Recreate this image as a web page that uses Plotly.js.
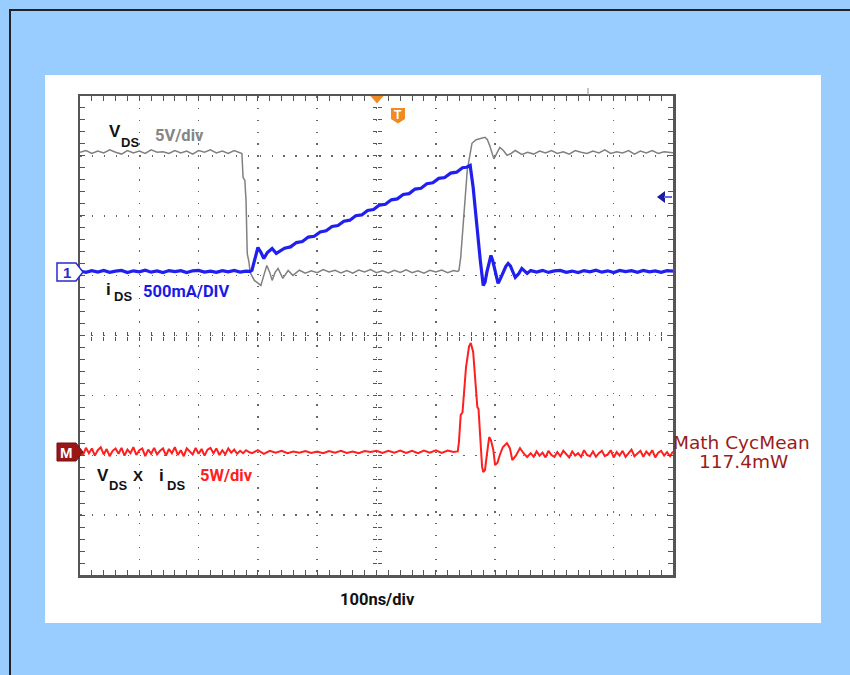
<!DOCTYPE html>
<html>
<head>
<meta charset="utf-8">
<script src="https://cdn.plot.ly/plotly-3.0.1.min.js"></script>
<style>
html,body{margin:0;padding:0;background:#99CCFF;}
#chart{width:850px;height:675px;}
</style>
</head>
<body>
<div id="chart"></div>
<script>
// ---------- DATA (time in ns, 100 ns/div, trigger at 0) ----------
// V_DS (volts), 5 V/div
const vdsTime = [
  -500,-490,-480,-470,-460,-450,-440,-430,-420,-410,-400,-390,-380,-370,-360,-350,-340,-330,-320,-310,-300,-290,-280,-270,-260,-250,-240,-230,
  -227,-225,-222,-220,-218,-215,-213,-206,-200,-195,-190,-185,-180,-176,-171,-166,-158,-149,-141,
  -130,-120,-110,-100,-90,-80,-70,-60,-50,-40,-30,-20,-10,0,10,20,30,40,50,60,70,80,90,100,110,120,130,
  137,139,142,146,149,153,158,161,168,175,183,187,191,198,203,208,214,220,227,234,245,
  255,265,275,285,295,305,315,325,335,345,355,365,375,385,395,405,415,425,435,445,455,465,475,485,495,500
];
const vdsVolts = [
  9.95,10.1,9.85,10.05,9.9,10.15,9.95,9.8,10.1,9.9,10.05,9.85,10.15,9.95,10.0,9.85,10.1,9.9,10.05,9.8,10.1,9.95,10.15,9.9,10.05,9.85,10.1,9.95,
  9.85,7.85,7.6,5.9,1.5,0.75,-0.1,-0.75,-1.0,-1.17,-0.33,0.5,-0.08,-0.75,-0.08,0.25,-0.58,0.08,-0.33,
  0.1,-0.15,0.05,-0.1,0.15,-0.05,0.1,-0.12,0.08,-0.15,0.12,-0.05,0.15,-0.1,0.05,-0.12,0.1,-0.08,0.14,-0.1,0.06,-0.14,0.1,-0.05,0.12,-0.1,0.08,
  0.0,0.08,1.17,3.67,5.93,8.43,9.85,10.7,11.0,11.1,11.2,11.0,10.5,9.4,9.9,10.35,10.1,9.7,9.85,10.1,9.77,
  9.95,9.8,10.05,9.9,10.1,9.85,10.0,9.8,10.1,9.95,9.85,10.05,9.9,10.15,9.85,10.0,9.9,10.1,9.8,10.05,9.9,10.1,9.85,10.0,9.95,9.9
];

// i_DS (mA), 500 mA/div
const idsTime = [
  -500,-490,-480,-470,-460,-450,-440,-430,-420,-410,-400,-390,-380,-370,-360,-350,-340,-330,-320,-310,-300,-290,-280,-270,-260,-250,-240,-230,-220,
  -213,-210,-205,-200,-195,-190,-184,-176,-169,-160,
  -155,-145,-135,-125,-115,-105,-95,-85,-75,-65,-55,-45,-35,-25,-15,-5,5,15,25,35,45,55,65,75,85,95,105,115,125,135,145,152,158,
  163,168,172,175,180,183,186,190,193,196,200,205,209,213,218,222,226,229,234,240,245,254,
  260,270,280,290,300,310,320,330,340,350,360,370,380,390,400,410,420,430,440,450,460,470,480,490,500
];
const idsMilliamps = [
  4,-8,7,-5,9,-7,2,8,-9,5,-3,10,-6,4,-9,7,-2,6,-10,5,8,-6,3,-7,7,-4,8,-5,2,
  0,10,117,200,160,108,158,192,150,182,
  194,205,241,250,287,294,330,339,376,383,419,428,465,472,509,517,554,561,598,606,643,650,688,695,732,740,777,784,821,829,866,870,885,
  701,426,230,92,-117,-90,-8,90,134,90,8,-100,-60,-8,40,67,45,8,-50,-17,25,-17,
  7,-6,9,-8,4,9,-7,3,-9,7,-4,10,-6,5,-9,8,-2,6,-7,9,-4,5,-8,7,2
];

// V_DS x i_DS (watts), 5 W/div
const pwrTime = [
  -500,-495,-490,-485,-480,-475,-470,-465,-460,-455,-450,-445,-440,-435,-430,-425,-420,-415,-410,-405,
  -400,-395,-390,-385,-380,-375,-370,-365,-360,-355,-350,-345,-340,-335,-330,-325,-320,-315,-310,-305,
  -300,-295,-290,-285,-280,-275,-270,-265,-260,-255,-250,-245,-240,-235,-230,-225,-220,-215,
  -210,-200,-190,-180,-170,-160,-150,-140,-130,-120,-110,-100,-90,-80,-70,-60,-50,-40,-30,-20,
  -10,0,10,20,30,40,50,60,70,80,90,100,110,120,130,
  137,139,142,145,148,151,156,159,163,166,170,172,175,178,180,183,186,190,193,197,200,204,208,213,220,225,229,235,242,248,254,
  260,265,270,275,280,285,290,295,300,305,310,315,320,325,330,335,340,345,350,355,
  360,365,370,375,380,385,390,395,400,405,410,415,420,425,430,435,440,445,450,455,
  460,465,470,475,480,485,490,495,500
];
const pwrWatts = [
  0.2,-0.25,0.35,-0.1,0.3,-0.3,0.15,0.4,-0.2,0.25,-0.35,0.1,0.3,-0.15,0.35,-0.3,0.2,-0.1,0.4,-0.25,
  0.15,0.3,-0.35,0.2,-0.15,0.35,-0.2,0.1,0.3,-0.3,0.25,-0.1,0.4,-0.25,0.15,-0.35,0.3,0.05,-0.2,0.35,
  -0.15,0.25,-0.3,0.2,0.35,-0.1,0.3,-0.25,0.15,-0.2,0.3,-0.05,0.2,-0.15,0.1,-0.1,0.15,0.0,
  -0.1,0.15,-0.15,0.1,-0.05,0.1,-0.1,0.05,-0.05,0.08,-0.08,0.05,-0.1,0.08,-0.05,0.1,-0.08,0.05,-0.1,0.08,
  0.0,0.1,-0.08,0.1,-0.05,0.12,-0.08,0.1,-0.1,0.12,-0.05,0.15,-0.08,0.12,0.0,
  0.05,0.83,3.1,3.3,5.2,7.1,8.8,9.1,8.35,6.4,3.76,3.6,0.75,-1.2,-1.67,-1.5,-0.25,1.25,1.0,0.17,-1.09,-0.9,-0.25,0.4,0.75,0.3,-0.67,-0.3,0.33,-0.1,-0.42,
  -0.1,-0.4,0.05,-0.3,-0.05,-0.45,0.1,-0.25,-0.4,0.0,-0.35,0.1,-0.2,-0.45,0.05,-0.3,-0.1,-0.4,0.15,-0.25,
  -0.35,0.05,-0.4,-0.1,0.1,-0.35,-0.2,0.15,-0.45,0.0,-0.3,0.1,-0.4,-0.05,0.2,-0.35,-0.15,0.1,-0.4,0.05,
  -0.25,0.15,-0.45,-0.05,0.1,-0.3,0.0,-0.35,0.05
];

// scope settings
const timeRange = [-500, 500];      // 100 ns/div, 10 div
const divRange = [-4, 4];           // 8 vertical divisions
const vdsPerDiv = 5, vdsOffsetDiv = 1.07;     // V/div, ground marker position (div)
const idsPerDiv = 500, idsOffsetDiv = 1.07;   // mA/div
const pwrPerDiv = 5, pwrOffsetDiv = -1.946;   // W/div
const mathLabel = 'Math CycMean';
const mathValue = '117.4mW';

// ---------- LAYOUT HELPERS (pixel -> paper) ----------
const L = 80, T = 96, W = 593, H = 479;
const X = px => (px - L) / W;
const Y = py => (T + H - py) / H;
const P = pts => 'M' + pts.map(p => X(p[0]).toFixed(5) + ',' + Y(p[1]).toFixed(5)).join(' L') + ' Z';
const chRange = (perDiv, off) => [(divRange[0] - off) * perDiv, (divRange[1] - off) * perDiv];

const frame = '#555555';
const common = {showticklabels:false, zeroline:false, fixedrange:true};

const layout = {
  width: 850, height: 675,
  margin: {l: L, r: 850 - L - W, t: T, b: 675 - T - H, pad: 0},
  paper_bgcolor: '#99CCFF',
  plot_bgcolor: '#ffffff',
  showlegend: false,
  xaxis: Object.assign({}, common, {
    range: timeRange, dtick: 100, tick0: 0,
    showline: true, linecolor: frame, linewidth: 2.5, mirror: 'allticks',
    ticks: 'inside', ticklen: 5, tickwidth: 1, tickcolor: frame,
    showgrid: true, gridcolor: '#666666', gridwidth: 1.5, griddash: '1.5px,10.36px',
    minor: {dtick: 20, tick0: 0, ticks: 'inside', ticklen: 3, tickwidth: 1, tickcolor: frame, showgrid: false}
  }),
  yaxis: Object.assign({}, common, {
    range: divRange, dtick: 1, tick0: 0,
    showline: true, linecolor: frame, linewidth: 2.5, mirror: 'allticks',
    ticks: 'inside', ticklen: 5, tickwidth: 1, tickcolor: frame,
    showgrid: true, gridcolor: '#666666', gridwidth: 1.5, griddash: '1.5px,10.47px',
    minor: {dtick: 0.2, tick0: 0, ticks: 'inside', ticklen: 3, tickwidth: 1, tickcolor: frame, showgrid: false}
  }),
  yaxis2: Object.assign({}, common, {overlaying: 'y', range: chRange(vdsPerDiv, vdsOffsetDiv), visible: false}),
  yaxis3: Object.assign({}, common, {overlaying: 'y', range: chRange(idsPerDiv, idsOffsetDiv), visible: false}),
  yaxis4: Object.assign({}, common, {overlaying: 'y', range: chRange(pwrPerDiv, pwrOffsetDiv), visible: false}),
  // centre cross-hair tick rulers
  xaxis2: Object.assign({}, common, {overlaying: 'x', anchor: 'free', position: 0.5, side: 'bottom', range: timeRange,
    dtick: 20, tick0: 0, ticks: 'inside', ticklen: 4, tickwidth: 1, tickcolor: frame, showline: false, showgrid: false}),
  xaxis3: Object.assign({}, common, {overlaying: 'x', anchor: 'free', position: 0.5, side: 'top', range: timeRange,
    dtick: 20, tick0: 0, ticks: 'inside', ticklen: 4, tickwidth: 1, tickcolor: frame, showline: false, showgrid: false}),
  yaxis5: Object.assign({}, common, {overlaying: 'y', anchor: 'free', position: 0.5, side: 'left', range: divRange,
    dtick: 0.2, tick0: 0, ticks: 'inside', ticklen: 4, tickwidth: 1, tickcolor: frame, showline: false, showgrid: false}),
  yaxis6: Object.assign({}, common, {overlaying: 'y', anchor: 'free', position: 0.5, side: 'right', range: divRange,
    dtick: 0.2, tick0: 0, ticks: 'inside', ticklen: 4, tickwidth: 1, tickcolor: frame, showline: false, showgrid: false}),
  shapes: [
    {type:'rect', xref:'paper', yref:'paper', x0:X(45), x1:X(821), y0:Y(623), y1:Y(75), fillcolor:'#ffffff', line:{width:0}, layer:'below'},
    {type:'rect', xref:'paper', yref:'paper', x0:X(10), x1:X(900), y0:Y(720), y1:Y(10), fillcolor:'rgba(0,0,0,0)', line:{color:'#222222', width:2}, layer:'below'},
    // channel 1 ground marker
    {type:'path', xref:'paper', yref:'paper', path:P([[57,263],[76,263],[83,272],[76,281],[57,281]]), fillcolor:'#ffffff', line:{color:'#2a2ad0', width:1.5}},
    // math ground marker
    {type:'path', xref:'paper', yref:'paper', path:P([[57,443],[76,443],[83,452],[76,461],[57,461]]), fillcolor:'#9a1616', line:{color:'#7a0c0c', width:1}},
    // trigger position
    {type:'path', xref:'paper', yref:'paper', path:P([[370.5,96],[383.5,96],[377,103.5]]), fillcolor:'#F08A24', line:{width:0}},
    {type:'path', xref:'paper', yref:'paper', path:P([[391,108],[405,108],[405,119],[398,123.5],[391,119]]), fillcolor:'#F08A24', line:{width:0}},
    // trigger level arrow (right)
    {type:'path', xref:'paper', yref:'paper', path:P([[657,197],[665,191],[665,203]]), fillcolor:'#1a1a9a', line:{width:0}},
    {type:'line', xref:'paper', yref:'paper', x0:X(664), x1:X(672), y0:Y(197), y1:Y(197), line:{color:'#6a6ad8', width:2}},
    {type:'line', xref:'paper', yref:'paper', x0:X(588), x1:X(588), y0:Y(88), y1:Y(95), line:{color:'#888888', width:1}}
  ],
  annotations: []
};

const narrow = 'Roboto, "Liberation Sans", sans-serif';
const sans = '"Liberation Sans", Arial, sans-serif';
function label(text, px, py, size, color, family, anchor) {
  layout.annotations.push({
    text: text, xref:'paper', yref:'paper', x: X(px), y: Y(py),
    xanchor: anchor || 'left', yanchor: 'middle', showarrow: false,
    font: {family: family || narrow, size: size, color: color, weight: 'bold'}
  });
}
label('V', 107, 131, 17, '#111111', sans);
label('DS', 119, 142, 13, '#111111', sans);
label('5V/div', 153, 135, 16.5, '#858585');
label('i', 104, 289, 17, '#111111', sans);
label('DS', 112, 296, 13, '#111111', sans);
label('500mA/DIV', 141, 291, 16.5, '#1a1ae6');
label('V', 95, 475, 17, '#111111', sans);
label('DS', 107, 485, 13, '#111111', sans);
label('X', 131, 475, 15, '#111111', sans);
label('i', 157, 475, 17, '#111111', sans);
label('DS', 165, 485, 13, '#111111', sans);
label('5W/div', 198, 475, 16.5, '#ff2020');
label('100ns/div', 377, 599, 16.5, '#111111', narrow, 'center');
label('1', 66.5, 272, 15, '#2a2ad0', sans, 'center');
label('M', 66.5, 452, 15, '#ffffff', sans, 'center');
label('T', 398, 115, 12, '#ffffff', sans, 'center');
layout.annotations.push({text: mathLabel, xref:'paper', yref:'paper', x: X(741), y: Y(442), xanchor:'center', yanchor:'middle',
  showarrow:false, font:{family:'"DejaVu Sans", "Lucida Grande", sans-serif', size:18.5, color:'#9a1c1c'}});
layout.annotations.push({text: mathValue, xref:'paper', yref:'paper', x: X(744), y: Y(461), xanchor:'center', yanchor:'middle',
  showarrow:false, font:{family:'"DejaVu Sans", "Lucida Grande", sans-serif', size:18.5, color:'#9a1c1c'}});

const traces = [
  {x:[null], y:[null], xaxis:'x', yaxis:'y', mode:'lines', hoverinfo:'skip'},
  {x: vdsTime, y: vdsVolts, xaxis:'x', yaxis:'y2', mode:'lines', line:{color:'#808080', width:1.5}, hoverinfo:'skip'},
  {x: idsTime, y: idsMilliamps, xaxis:'x', yaxis:'y3', mode:'lines', line:{color:'#1f1ff0', width:3.2}, hoverinfo:'skip'},
  {x: pwrTime, y: pwrWatts, xaxis:'x', yaxis:'y4', mode:'lines', line:{color:'#ff1f1f', width:2}, hoverinfo:'skip'},
  {x:[null], y:[null], xaxis:'x2', yaxis:'y', mode:'lines', hoverinfo:'skip'},
  {x:[null], y:[null], xaxis:'x3', yaxis:'y', mode:'lines', hoverinfo:'skip'},
  {x:[null], y:[null], xaxis:'x', yaxis:'y5', mode:'lines', hoverinfo:'skip'},
  {x:[null], y:[null], xaxis:'x', yaxis:'y6', mode:'lines', hoverinfo:'skip'}
];

Plotly.newPlot('chart', traces, layout, {staticPlot: true, displayModeBar: false});
</script>
</body>
</html>
